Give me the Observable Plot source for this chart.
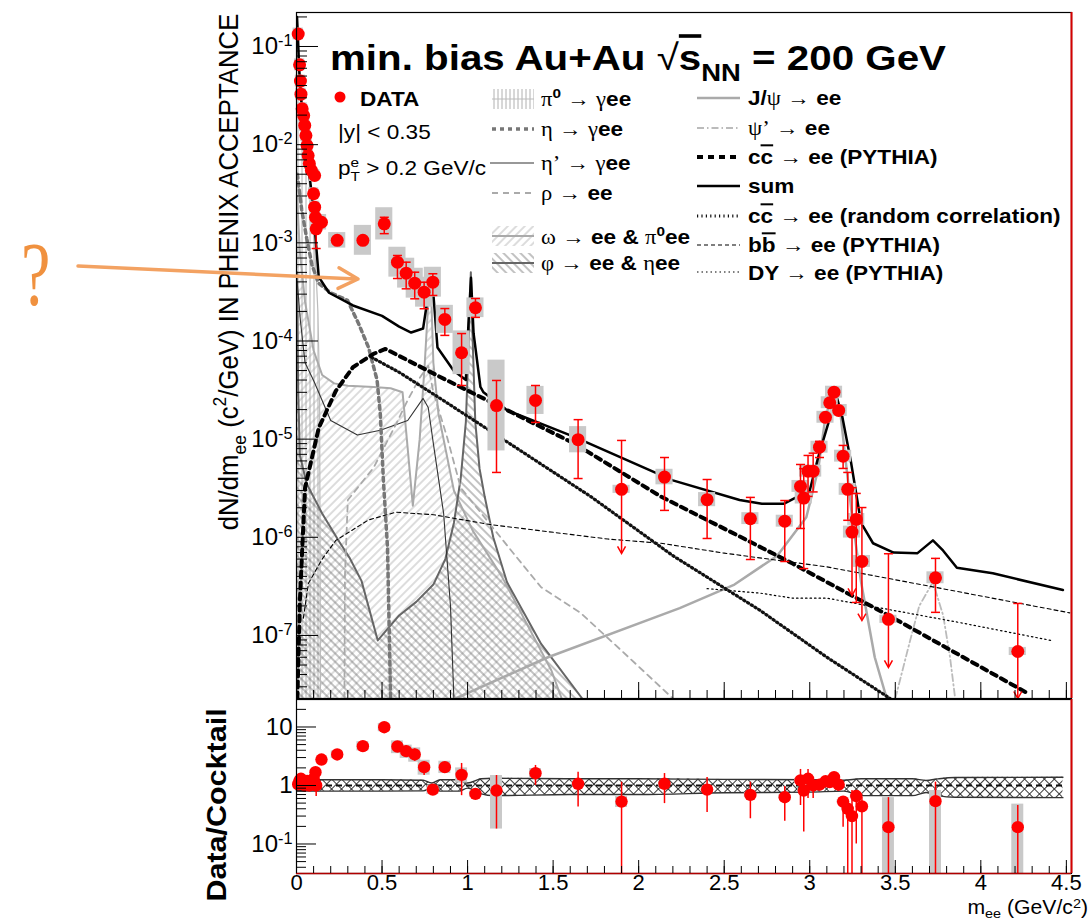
<!DOCTYPE html>
<html>
<head>
<meta charset="utf-8">
<script src="https://cdn.jsdelivr.net/npm/d3@7"></script>
<script src="https://cdn.jsdelivr.net/npm/@observablehq/plot@0.6"></script>
<style>
html,body{margin:0;padding:0;background:#fff;}
#wrap{position:relative;width:1091px;height:922px;overflow:hidden;background:#fff;font-family:"Liberation Sans",Arial,Helvetica,sans-serif;}
#wrap > svg{position:absolute;left:0;}
</style>
</head>
<body>
<svg width="0" height="0" style="position:absolute">
<defs>
 <pattern id="vhatch" width="4" height="10" patternUnits="userSpaceOnUse"><line x1="2" y1="0" x2="2" y2="10" stroke="#9c9c9c" stroke-width="0.8"/></pattern>
 <pattern id="fhatch" width="6" height="6" patternUnits="userSpaceOnUse" patternTransform="rotate(45)"><line x1="3" y1="0" x2="3" y2="6" stroke="#a8a8a8" stroke-width="0.8"/></pattern>
 <pattern id="bhatch" width="6" height="6" patternUnits="userSpaceOnUse" patternTransform="rotate(-45)"><line x1="3" y1="0" x2="3" y2="6" stroke="#666" stroke-width="0.8"/></pattern>
 <pattern id="xhatch" width="7" height="7" patternUnits="userSpaceOnUse" patternTransform="rotate(45)"><rect width="7" height="7" fill="#fff"/><line x1="3.5" y1="0" x2="3.5" y2="7" stroke="#222" stroke-width="0.9"/><line x1="0" y1="3.5" x2="7" y2="3.5" stroke="#222" stroke-width="0.9"/></pattern>
</defs>
</svg>
<div id="wrap"></div>
<script>
// ---------------- DATA ----------------
const massGeV = [0.010,0.018,0.023,0.026,0.033,0.042,0.048,0.055,0.062,0.068,0.075,0.087,0.106,0.100,0.106,0.111,0.146,0.115,0.238,0.388,0.513,0.590,0.641,0.691,0.746,0.797,0.867,0.965,1.046,1.169,1.397,1.646,1.900,2.151,2.400,2.653,2.854,2.946,2.965,2.990,3.020,3.057,3.092,3.117,3.142,3.169,3.195,3.222,3.247,3.272,3.305,3.460,3.735,4.216];
const yieldData = [0.134,0.065,0.0444,0.0327,0.0232,0.0198,0.0157,0.0124,0.0098,0.00776,0.00643,0.00546,0.00485,0.00316,0.00231,0.00182,0.00162,0.00139,0.00106,0.00106,0.00156,6.35e-4,4.91e-4,3.88e-4,3.14e-4,3.97e-4,1.66e-4,7.59e-5,2.18e-4,2.20e-5,2.48e-5,9.87e-6,3.08e-6,4.11e-6,2.42e-6,1.55e-6,1.46e-6,3.30e-6,2.51e-6,4.72e-6,4.72e-6,8.28e-6,1.67e-5,2.35e-5,3.01e-5,1.96e-5,6.71e-6,3.08e-6,1.13e-6,1.52e-6,5.68e-7,1.46e-7,3.87e-7,6.87e-8];
const yieldErrLo = [null,null,null,null,null,null,null,null,null,null,null,null,null,null,null,null,null,8.75e-4,null,null,1.24e-3,4.33e-4,3.40e-4,2.69e-4,2.13e-4,2.91e-4,1.14e-4,3.52e-5,1.74e-4,4.58e-6,1.48e-5,3.97e-6,6.86e-7,1.88e-6,9.73e-7,5.94e-7,5.67e-7,1.23e-6,4.8e-7,2.61e-6,2.9e-6,6.5e-6,null,null,null,null,5.03e-6,1.49e-6,2.56e-7,2.17e-7,1.42e-7,4.72e-8,1.72e-7,2.28e-8];
const yieldErrHi = [null,null,null,null,null,null,null,null,null,null,null,null,null,null,null,null,null,1.5e-3,null,null,1.82e-3,7.43e-4,6.35e-4,5.02e-4,3.97e-4,4.84e-4,2.14e-4,1.19e-4,2.71e-4,3.96e-5,3.52e-5,1.58e-5,9.7e-6,6.5e-6,3.88e-6,2.55e-6,2.37e-6,5.52e-6,5.0e-6,6.82e-6,7.2e-6,9.5e-6,null,null,null,null,8.63e-6,4.58e-6,3.2e-6,2.8e-6,2.01e-6,6.8e-7,6.1e-7,2.12e-7];
const yieldSys = [1.15,1.15,1.15,1.15,1.15,1.15,1.15,1.15,1.15,1.15,1.15,1.15,1.15,1.15,1.15,1.15,1.2,1.15,1.2,1.42,1.46,1.42,1.42,1.42,1.42,1.42,1.39,1.67,1.26,2.9,1.39,1.36,1.1,1.2,1.18,1.15,1.15,1.15,1.15,1.15,1.15,1.15,1.15,1.15,1.15,1.15,1.15,1.15,1.15,1.15,1.15,1.1,1.15,1.1];
const upperLimitMass = [1.900,3.247,3.305,3.460,4.216];

const ratioData = [1.05,1.2,1.25,1.3,1.15,1.1,1.0,1.05,1.2,1.1,1.0,1.05,1.1,1.3,1.03,1.69,2.78,1.0,3.39,4.7,9.9,4.64,3.86,3.39,2.06,0.85,2.06,1.52,0.72,0.82,1.62,1.07,0.53,1.07,0.85,0.69,0.63,1.22,0.82,1.30,1.0,1.03,1.18,1.14,1.39,1.03,0.53,0.40,0.30,0.66,0.44,0.194,0.54,0.194];
const ratioErrLo = [null,null,null,null,null,null,null,null,null,null,null,null,null,null,null,1.45,2.6,0.65,null,null,null,3.9,3.1,2.6,1.48,0.73,1.69,0.67,0.65,0.18,1.0,0.43,0.0313,0.49,0.345,0.27,0.245,0.455,0.16,0.6,0.6,0.9,1.05,1.0,1.14,0.9,0.194,0.0313,0.0313,0.1,0.0313,0.0313,0.0313,0.0313];
const ratioErrHi = [null,null,null,null,null,null,null,null,null,null,null,null,null,null,null,2.0,3.0,1.3,null,null,null,5.5,4.8,4.2,2.5,1.0,2.5,2.38,0.8,1.48,2.2,1.69,1.14,1.6,1.37,1.14,0.96,1.88,1.22,1.88,1.22,1.15,1.3,1.3,1.6,1.15,0.63,0.49,0.82,0.82,0.63,0.62,1.14,0.455];
const ratioSysLo = [0.88,1.0,1.04,1.08,0.96,0.92,0.83,0.88,1.0,0.92,0.83,0.88,0.92,1.08,0.86,1.45,2.35,0.85,2.9,3.9,8.3,3.5,2.9,2.5,1.5,0.7,1.6,1.1,0.63,0.18,1.35,0.95,0.42,0.97,0.78,0.63,0.58,1.13,0.76,1.2,0.93,0.95,1.09,1.06,1.29,0.95,0.49,0.37,0.28,0.61,0.41,0.0313,0.0313,0.0313];
const ratioSysHi = [1.26,1.44,1.5,1.56,1.38,1.32,1.2,1.26,1.44,1.32,1.2,1.26,1.32,1.56,1.24,1.95,3.25,1.18,3.9,5.6,11.5,5.8,4.9,4.4,2.7,1.0,2.6,2.0,0.8,1.48,1.95,1.2,0.65,1.17,0.93,0.76,0.69,1.32,0.89,1.4,1.08,1.11,1.27,1.23,1.5,1.11,0.57,0.43,0.32,0.71,0.48,0.62,0.82,0.48];

// cocktail uncertainty band (ratio panel)
const bandMass = [0.0,0.1,0.5,0.74,0.79,0.84,0.95,1.0,1.08,1.15,1.6,2.0,2.5,3.0,3.2,3.3,3.6,3.68,3.75,3.85,4.48];
const bandHi   = [1.22,1.25,1.25,1.23,1.1,1.25,1.25,1.1,1.3,1.33,1.3,1.3,1.27,1.25,1.23,1.3,1.3,1.22,1.3,1.37,1.38];
const bandLo   = [0.82,0.8,0.8,0.81,0.9,0.8,0.8,0.9,0.72,0.67,0.7,0.7,0.75,0.77,0.8,0.67,0.67,0.76,0.67,0.63,0.62];

// cocktail components [mass, dN/dm]
const pi0Curve = [[0.002,0.2],[0.01,0.12],[0.02,0.06],[0.035,0.025],[0.05,0.012],[0.07,0.005],[0.09,0.002],[0.11,7e-4],[0.125,2e-4],[0.135,3e-5],[0.14,2.28e-8]];
const etaCurve = [[0.005,5e-3],[0.03,2.2e-3],[0.06,1.1e-3],[0.09,6e-4],[0.128,3.9e-4],[0.2,3.1e-4],[0.298,2.6e-4],[0.363,1.5e-4],[0.421,8.6e-5],[0.471,4e-5],[0.49,1.8e-5],[0.508,3.8e-6],[0.532,7.9e-7],[0.55,2.28e-8]];
const etaPrimeCurve = [[0.004,4e-4],[0.023,1.6e-4],[0.05,6e-5],[0.1,3.96e-5],[0.2,1.55e-5],[0.356,1.1e-5],[0.49,1.23e-5],[0.65,1.55e-5],[0.74,2.6e-5],[0.77,2.1e-5],[0.8,9e-6],[0.86,1.75e-6],[0.9,2e-7],[0.92,2.28e-8]];
const rhoCurve = [[0.28,2.28e-8],[0.283,4e-7],[0.3,2.4e-6],[0.45,5.1e-6],[0.58,1.4e-5],[0.65,2.5e-5],[0.72,4.2e-5],[0.77,5.6e-5],[0.8,3e-5],[0.88,1.05e-5],[0.96,3.2e-6],[1.27,6.8e-7],[1.43,3.1e-7],[1.66,1.7e-7],[1.9,7e-8],[2.2,2.28e-8]];
const omegaCurve = [[0.003,3e-3],[0.02,8e-4],[0.05,2.5e-4],[0.1,8e-5],[0.15,4.5e-5],[0.22,3.7e-5],[0.3,3.5e-5],[0.45,3.4e-5],[0.55,3.3e-5],[0.62,3e-5],[0.645,1e-5],[0.68,2.1e-6],[0.72,1e-5],[0.75,6e-5],[0.775,3.5e-4],[0.785,4e-4],[0.8,6e-5],[0.83,1.8e-5],[0.92,3e-6],[1.03,1.17e-6],[1.2,4e-7],[1.49,4.4e-8],[1.55,2.28e-8]];
const phiCurve = [[0.003,5e-4],[0.01,3e-5],[0.02,6.8e-6],[0.06,3.5e-6],[0.15,1.75e-6],[0.25,9e-7],[0.31,6.2e-7],[0.38,3.6e-7],[0.475,8.9e-8],[0.6,1.6e-7],[0.7,2.2e-7],[0.8,3.3e-7],[0.87,6e-7],[0.92,1.4e-6],[0.96,4e-6],[0.99,1.5e-5],[1.005,8e-5],[1.019,5e-4],[1.03,1e-4],[1.045,1.5e-5],[1.07,5e-6],[1.1,2.6e-6],[1.15,1e-6],[1.23,3.5e-7],[1.43,8.2e-8],[1.67,2.28e-8]];
const jpsiCurve = [[0.93,2.28e-8],[1.47,6e-8],[2.24,1.9e-7],[2.56,3.3e-7],[2.81,6.5e-7],[2.98,1.6e-6],[3.05,5e-6],[3.09,1.6e-5],[3.12,2.5e-5],[3.15,2.8e-5],[3.18,1.8e-5],[3.21,6e-6],[3.25,1.5e-6],[3.3,3.5e-7],[3.38,6e-8],[3.45,2.28e-8]];
const psiPrimeCurve = [[3.5,2.28e-8],[3.58,8e-8],[3.64,2e-7],[3.72,3.5e-7],[3.78,1.6e-7],[3.82,6e-8],[3.85,2.28e-8]];
const ccbarCurve = [[0.005,2.28e-8],[0.02,2.3e-7],[0.05,3.2e-6],[0.13,1.3e-5],[0.23,3.1e-5],[0.33,5.4e-5],[0.45,7.4e-5],[0.52,8.3e-5],[0.84,4.3e-5],[1.62,9.1e-6],[2.13,2.6e-6],[2.6,1e-6],[2.9,5.4e-7],[3.49,1.5e-7],[4.27,2.6e-8]];
const sumCurve = [[0.003,0.2],[0.008,0.13],[0.015,0.06],[0.03,0.025],[0.05,0.012],[0.07,6e-3],[0.09,3e-3],[0.11,1.2e-3],[0.13,4.5e-4],[0.19,3.1e-4],[0.33,2.3e-4],[0.5,1.8e-4],[0.6,1.4e-4],[0.67,1.22e-4],[0.74,1.34e-4],[0.765,2.6e-4],[0.783,5.5e-4],[0.8,3e-4],[0.824,8.6e-5],[0.918,5e-5],[0.99,4e-5],[1.005,1.5e-4],[1.02,4.4e-4],[1.035,1.2e-4],[1.075,3.4e-5],[1.093,3e-5],[1.233,1.96e-5],[1.62,1.06e-5],[2.2,3.8e-6],[2.59,2.4e-6],[2.72,2.2e-6],[2.85,2.2e-6],[3.0,3.0e-6],[3.05,6.6e-6],[3.12,1.7e-5],[3.15,3e-5],[3.19,1.7e-5],[3.24,6e-6],[3.3,1.4e-6],[3.37,8.7e-7],[3.49,7e-7],[3.63,6.9e-7],[3.72,9.3e-7],[3.78,7.3e-7],[3.86,4.9e-7],[4.07,4.3e-7],[4.48,2.9e-7]];
const randomCorrCurve = [[0.44,6.8e-5],[0.6,4.8e-5],[0.84,2.6e-5],[1.23,9.4e-6],[1.72,2.6e-6],[2.2,6.5e-7],[2.71,1.8e-7],[3.1,6e-8],[3.47,2.28e-8]];
const bbbarCurve = [[0.04,1.5e-7],[0.07,3.4e-7],[0.15,6e-7],[0.23,9.3e-7],[0.42,1.5e-6],[0.58,1.8e-6],[0.8,1.7e-6],[1.13,1.35e-6],[1.82,9.6e-7],[2.13,8.7e-7],[2.5,6.9e-7],[3.1,5e-7],[3.69,3.2e-7],[4.52,1.7e-7]];
const dyCurve = [[2.4,3.0e-7],[2.71,2.7e-7],[2.9,2.4e-7],[3.1,2.4e-7],[3.49,1.8e-7],[3.88,1.35e-7],[4.41,8.9e-8]];

// axis tick values
const yDecades = [1e-7,1e-6,1e-5,1e-4,1e-3,1e-2,1e-1];
const rDecades = [0.1,1,10];

// ---------------- SETUP ----------------
const SANS = "'Liberation Sans', Arial, Helvetica, sans-serif";
const SERIF = "'Liberation Serif', 'DejaVu Serif', serif";
const Y_MIN = 2.28e-8, Y_MAX = 0.222, R_MIN = 0.0313, R_MAX = 29.5, X_MAX = 4.53;

const pts = massGeV.map((x, i) => ({
  x, y: yieldData[i], lo: yieldErrLo[i], hi: yieldErrHi[i], sys: yieldSys[i],
  ul: upperLimitMass.includes(x),
  r: ratioData[i], rlo: ratioErrLo[i], rhi: ratioErrHi[i], rsl: ratioSysLo[i], rsh: ratioSysHi[i]
}));
const errPts = pts.filter(d => d.lo != null);
const rErrPts = pts.filter(d => d.rlo != null);
const band = bandMass.map((x, i) => ({x, lo: bandLo[i], hi: bandHi[i]}));

const minorY = [];
for (let e = -8; e <= -1; e++) for (let m = 2; m <= 9; m++) { const v = m * Math.pow(10, e); if (v > Y_MIN && v < Y_MAX) minorY.push(v); }
const minorR = [];
for (let e = -2; e <= 1; e++) for (let m = 2; m <= 9; m++) { const v = m * Math.pow(10, e); if (v > R_MIN && v < R_MAX) minorR.push(v); }
const majorX = d3.range(0, 4.51, 0.5);
const minorX = d3.range(0, 4.53, 0.1);

const capSym = {draw(ctx) { ctx.moveTo(-4.5, 0); ctx.lineTo(4.5, 0); }};
const arrowSym = {draw(ctx) { ctx.moveTo(-4, -7); ctx.lineTo(0, 0); ctx.lineTo(4, -7); }};

const X = d => d[0], Y = d => d[1];
const curve = (data, o) => Plot.line(data, {x: X, y: Y, clip: true, ...o});
const fillArea = (data, fill) => Plot.areaY(data, {x: X, y1: Y_MIN, y2: Y, fill, clip: true});

const style = {fontFamily: SANS, fontSize: "23px", background: "transparent", color: "#000", overflow: "visible"};

const topPlot = Plot.plot({
  width: 1091, height: 699,
  marginLeft: 296, marginRight: 20, marginTop: 12, marginBottom: 1,
  x: {domain: [0, X_MAX]},
  y: {type: "log", domain: [Y_MIN, Y_MAX]},
  style,
  marks: [
    fillArea(pi0Curve, "url(#vhatch)"),
    fillArea(omegaCurve, "url(#fhatch)"),
    fillArea(phiCurve, "url(#bhatch)"),
    curve(pi0Curve, {stroke: "#bbb", strokeWidth: 1.2}),
    curve(omegaCurve, {stroke: "#aaa", strokeWidth: 2}),
    curve(phiCurve, {stroke: "#666", strokeWidth: 2}),
    curve(etaPrimeCurve, {stroke: "#333", strokeWidth: 1.1}),
    curve(rhoCurve, {stroke: "#aaa", strokeWidth: 1.8, strokeDasharray: "6,5"}),
    curve(etaCurve, {stroke: "#777", strokeWidth: 3.5, strokeDasharray: "4,4"}),
    curve(jpsiCurve, {stroke: "#aaa", strokeWidth: 2.5}),
    curve(psiPrimeCurve, {stroke: "#bbb", strokeWidth: 1.8, strokeDasharray: "7,3,1.5,3"}),
    curve(bbbarCurve, {stroke: "#000", strokeWidth: 1.1, strokeDasharray: "4,3"}),
    curve(dyCurve, {stroke: "#000", strokeWidth: 1.2, strokeDasharray: "1.5,3"}),
    curve(randomCorrCurve, {stroke: "#111", strokeWidth: 3.2, strokeDasharray: "1.2,3.2"}),
    curve(ccbarCurve, {stroke: "#000", strokeWidth: 4, strokeDasharray: "6,5"}),
    curve(sumCurve, {stroke: "#000", strokeWidth: 2.5}),
    Plot.rect(pts, {x1: d => d.x - (d.x < 0.2 ? 0.03 : 0.05), x2: d => d.x + (d.x < 0.2 ? 0.03 : 0.05), y1: d => d.y / d.sys, y2: d => d.y * d.sys, fill: "#c9c9c9"}),
    Plot.ruleX(errPts, {x: "x", y1: "lo", y2: "hi", stroke: "#f00", strokeWidth: 1.5}),
    Plot.dot(errPts, {x: "x", y: "hi", symbol: capSym, stroke: "#f00", fill: "none", strokeWidth: 1.5}),
    Plot.dot(errPts.filter(d => !d.ul), {x: "x", y: "lo", symbol: capSym, stroke: "#f00", fill: "none", strokeWidth: 1.5}),
    Plot.dot(errPts.filter(d => d.ul), {x: "x", y: "lo", symbol: arrowSym, stroke: "#f00", fill: "none", strokeWidth: 1.5}),
    Plot.dot(pts, {x: "x", y: "y", r: 6.5, fill: "#f00"}),
    Plot.frame({stroke: "#000", strokeWidth: 1.2}),
    Plot.ruleX([X_MAX], {stroke: "#d40000", strokeWidth: 2}),
    Plot.axisY(yDecades, {tickSize: 0, tickPadding: 4, fontSize: 24, tickFormat: d => `10^${Math.round(Math.log10(d))}`, label: null}),
    Plot.axisY(yDecades, {tickSize: -22, tickFormat: () => "", label: null}),
    Plot.axisY(minorY, {tickSize: -11, tickFormat: () => "", label: null}),
    Plot.axisX(majorX, {tickSize: -16, tickFormat: () => "", label: null}),
    Plot.axisX(minorX, {tickSize: -8, tickFormat: () => "", label: null})
  ]
});

const botPlot = Plot.plot({
  width: 1091, height: 232,
  marginLeft: 296, marginRight: 20, marginTop: 9, marginBottom: 49,
  x: {domain: [0, X_MAX]},
  y: {type: "log", domain: [R_MIN, R_MAX]},
  style,
  marks: [
    Plot.areaY(band, {x: "x", y1: "lo", y2: "hi", fill: "url(#xhatch)", curve: "monotone-x"}),
    Plot.line(band, {x: "x", y: "lo", stroke: "#333", strokeWidth: 1.4, curve: "monotone-x"}),
    Plot.line(band, {x: "x", y: "hi", stroke: "#333", strokeWidth: 1.4, curve: "monotone-x"}),
    Plot.ruleY([1], {x1: bandMass[0], x2: bandMass[bandMass.length - 1], stroke: "#111", strokeWidth: 1.8, strokeDasharray: "6,4"}),
    Plot.rect(pts, {x1: d => d.x - (d.x < 0.2 ? 0.02 : 0.035), x2: d => d.x + (d.x < 0.2 ? 0.02 : 0.035), y1: "rsl", y2: "rsh", fill: "#c9c9c9", clip: true}),
    Plot.ruleX(rErrPts, {x: "x", y1: "rlo", y2: "rhi", stroke: "#f00", strokeWidth: 1.5, clip: true}),
    Plot.dot(pts, {x: "x", y: "r", r: 6.2, fill: "#f00"}),
    Plot.frame({stroke: "#000", strokeWidth: 1.2}),
    Plot.ruleX([X_MAX], {stroke: "#d40000", strokeWidth: 2}),
    Plot.ruleY([R_MIN], {stroke: "#b00000", strokeWidth: 1.5}),
    Plot.axisY(rDecades, {tickSize: 0, tickPadding: 4, fontSize: 24, tickFormat: d => d === 1 ? "1" : d === 10 ? "10" : "10^-1", label: null}),
    Plot.axisY(rDecades, {tickSize: -20, tickFormat: () => "", label: null}),
    Plot.axisY(minorR, {tickSize: -10, tickFormat: () => "", label: null}),
    Plot.axisX(majorX, {tickSize: -13, tickFormat: () => "", label: null}),
    Plot.axisX(minorX, {tickSize: -7, tickFormat: () => "", label: null}),
    Plot.axisX(majorX, {tickSize: 0, tickPadding: 1, fontSize: 22, tickFormat: d => String(d), label: null})
  ]
});

// superscripts for "10^n" tick labels
function superscripts(svg) {
  svg.querySelectorAll("text").forEach(t => {
    const m = (t.textContent || "").match(/^10\^(-?\d+)$/);
    if (!m) return;
    t.textContent = "10";
    const ts = document.createElementNS("http://www.w3.org/2000/svg", "tspan");
    ts.setAttribute("dy", "-0.5em");
    ts.setAttribute("font-size", "0.68em");
    ts.textContent = m[1];
    t.appendChild(ts);
  });
}
superscripts(topPlot);
superscripts(botPlot);

const wrap = document.getElementById("wrap");
topPlot.style.top = "0px";
botPlot.style.top = "690px";
wrap.appendChild(topPlot);
wrap.appendChild(botPlot);

// ---------------- ANNOTATIONS / LEGEND ----------------
const ov = d3.select(wrap).append("svg").attr("width", 1091).attr("height", 922)
  .style("top", "0px").style("left", "0px").attr("font-family", SANS);

function rich(x, y, segs, size, opts = {}) {
  const {stretch = 1.13, anchor = "start", rotate = 0, weight = "bold", fill = "#000", family = SANS, supShift = 0.42, subShift = 0.3} = opts;
  const g = ov.append("g").attr("transform", `translate(${x},${y})${rotate ? ` rotate(${rotate})` : ""} scale(${stretch},1)`);
  const t = g.append("text").attr("font-size", size).attr("text-anchor", anchor)
    .attr("font-family", family).attr("fill", fill).attr("font-weight", weight);
  let shift = 0;
  for (const s of segs) {
    const sp = t.append("tspan").text(s.t);
    if (s.w) sp.attr("font-weight", s.w);
    if (s.g) sp.attr("font-family", SERIF).attr("font-weight", "normal");
    const target = s.sup ? -supShift * size : s.sub ? subShift * size : 0;
    if (target !== shift) { sp.attr("dy", target - shift); shift = target; }
    if (s.sup || s.sub) sp.attr("font-size", size * 0.68);
    if (s.dx) sp.attr("dx", s.dx);
    if (s.over) sp.attr("text-decoration", "overline");
  }
  return g;
}

// title
rich(330, 70, [{t: "min. bias Au+Au "}, {t: "√", w: "normal"}, {t: "s", over: 1}, {t: "NN", sub: 1}, {t: " = 200 GeV"}], 36, {stretch: 1.12});

// data legend and cuts
ov.append("circle").attr("cx", 340).attr("cy", 97).attr("r", 5.5).attr("fill", "#f00");
rich(360, 106, [{t: "DATA"}], 20);
rich(338, 139, [{t: "|y| < 0.35"}], 20, {weight: "normal"});
rich(338, 175, [{t: "p"}, {t: "e", sup: 1}, {t: "T", sub: 1, dx: -7.6}, {t: " > 0.2 GeV/c"}], 20, {weight: "normal"});

// swatches
const sw = ov.append("g");
function swLine(x1, x2, y, stroke, width, dash) {
  sw.append("line").attr("x1", x1).attr("x2", x2).attr("y1", y).attr("y2", y)
    .attr("stroke", stroke).attr("stroke-width", width).attr("stroke-dasharray", dash || null);
}
function swRect(x1, x2, y, fill) {
  sw.append("rect").attr("x", x1).attr("y", y - 10).attr("width", x2 - x1).attr("height", 20).attr("fill", fill);
}
// middle column
swRect(492, 534, 99, "url(#vhatch)"); swLine(492, 534, 99, "#bbb", 1.2);
swLine(492, 534, 129, "#777", 3.5, "4,4");
swLine(490, 534, 163, "#333", 1.2);
swLine(492, 534, 193, "#aaa", 1.8, "6,5");
swRect(492, 534, 236, "url(#fhatch)"); swLine(492, 534, 236, "#aaa", 2);
swRect(492, 534, 263, "url(#bhatch)"); swLine(492, 534, 263, "#666", 2);
// right column
swLine(697, 740, 98, "#aaa", 2.5);
swLine(697, 740, 128, "#bbb", 1.8, "7,3,1.5,3");
swLine(697, 740, 157, "#000", 4, "6,5");
swLine(697, 740, 186, "#000", 2.5);
swLine(697, 740, 216, "#111", 3.2, "1.2,3.2");
swLine(697, 740, 245, "#000", 1.1, "4,3");
swLine(697, 740, 272, "#000", 1.2, "1.5,3");

rich(541, 106, [{t: "π", g: 1}, {t: "0", sup: 1}, {t: " → "}, {t: "γ", g: 1}, {t: "ee"}], 20);
rich(541, 136, [{t: "η", g: 1}, {t: " → "}, {t: "γ", g: 1}, {t: "ee"}], 20);
rich(541, 170, [{t: "η’", g: 1}, {t: " → "}, {t: "γ", g: 1}, {t: "ee"}], 20);
rich(541, 200, [{t: "ρ", g: 1}, {t: " → ee"}], 20);
rich(541, 244, [{t: "ω", g: 1}, {t: " → ee & "}, {t: "π", g: 1}, {t: "0", sup: 1}, {t: "ee"}], 20);
rich(541, 270, [{t: "φ", g: 1}, {t: " → ee & "}, {t: "η", g: 1}, {t: "ee"}], 20);

rich(748, 105, [{t: "J/"}, {t: "ψ", g: 1}, {t: " → ee"}], 20);
rich(748, 135, [{t: "ψ’", g: 1}, {t: " → ee"}], 20);
rich(748, 164, [{t: "c"}, {t: "c", over: 1}, {t: " → ee (PYTHIA)"}], 20);
rich(748, 193, [{t: "sum"}], 20);
rich(748, 223, [{t: "c"}, {t: "c", over: 1}, {t: " → ee (random correlation)"}], 20);
rich(748, 252, [{t: "b"}, {t: "b", over: 1}, {t: " → ee (PYTHIA)"}], 20);
rich(748, 280, [{t: "DY → ee (PYTHIA)"}], 20);

// axis titles
rich(238, 272, [{t: "dN/dm"}, {t: "ee", sub: 1}, {t: " (c"}, {t: "2", sup: 1}, {t: "/GeV) IN PHENIX ACCEPTANCE"}], 28, {weight: "normal", anchor: "middle", rotate: -90, stretch: 0.92});
rich(226, 805, [{t: "Data/Cocktail"}], 27, {anchor: "middle", rotate: -90, stretch: 1.13});
rich(1088, 914, [{t: "m"}, {t: "ee", sub: 1}, {t: " (GeV/c"}, {t: "2", sup: 1}, {t: ")"}], 20, {weight: "normal", anchor: "end", stretch: 1.06, supShift: 0.3, subShift: 0.18});

// question mark and arrow annotation
ov.append("text").attr("transform", "translate(21,305) scale(0.72,1)")
  .attr("font-family", SERIF).attr("font-size", 92).attr("fill", "#F0913F").text("?");
ov.append("path").attr("d", "M78,266 L356,279").attr("stroke", "#F3A262").attr("stroke-width", 3.5).attr("fill", "none").attr("stroke-linecap", "round");
ov.append("path").attr("d", "M339,267.8 L358,279 L338,288.4").attr("stroke", "#F3A262").attr("stroke-width", 3.5).attr("fill", "none").attr("stroke-linecap", "round").attr("stroke-linejoin", "round");
</script>
</body>
</html>
